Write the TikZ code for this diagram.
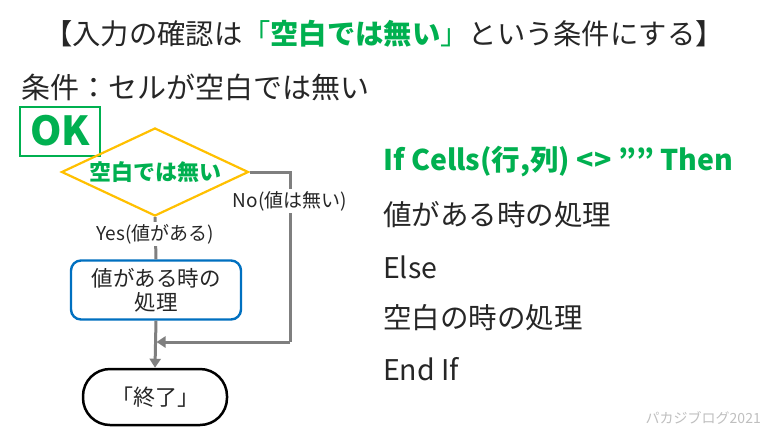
\documentclass[tikz,border=0pt]{standalone}
\usepackage{fontspec}
\setmainfont{Noto Sans CJK JP}
\usetikzlibrary{shapes.geometric,arrows.meta}
\definecolor{okgreen}{HTML}{00B050}
\definecolor{diagold}{HTML}{FFC000}
\definecolor{boxblue}{HTML}{0070C0}
\definecolor{txt}{HTML}{262626}
\definecolor{conn}{HTML}{7F7F7F}
\definecolor{wm}{HTML}{BFBFBF}
\tikzset{
  conline/.style={draw=conn, line width=3pt},
  conarrow/.style={conline, -{Triangle[length=9pt,width=11pt]}},
  clabel/.style={fill=white, text=txt, inner sep=2pt, font=\fontsize{19}{21}\selectfont},
  codeline/.style={anchor=west, text=txt, inner sep=0pt, font=\fontsize{28.5}{31}\selectfont},
}
\begin{document}
\begin{tikzpicture}[x=1pt,y=-1pt]
\useasboundingbox[fill=white] (0,0) rectangle (768,432);

\node[text=txt, inner sep=0pt, font=\fontsize{28.3}{32}\selectfont] (title) at (384,34)
  {【入力の確認は{\color{okgreen}「\textbf{空白では無い}」}という条件にする】};
\node[anchor=west, text=txt, inner sep=0pt, font=\fontsize{29}{32}\selectfont] (cond) at (21,87)
  {条件：セルが空白では無い};

\node[draw=okgreen, line width=2pt, text=okgreen, minimum width=80pt, minimum height=49pt, inner sep=0pt,
  font=\fontsize{40}{44}\selectfont\bfseries] (ok) at (60,131) {OK};

\node[draw=diagold, line width=2.2pt, diamond, shape aspect=2.1, inner sep=0pt,
  minimum width=187pt, minimum height=88pt, text=okgreen,
  font=\fontsize{22}{24}\selectfont\bfseries] (dia) at (155,172) {空白では無い};

\node[draw=boxblue, line width=2.4pt, rounded corners=10pt, minimum width=170pt, minimum height=59pt,
  align=center, text=txt, inner sep=0pt, font=\fontsize{21.5}{24}\selectfont] (proc) at (156,290)
  {値がある時の\\処理};

\node[draw=black, line width=2.5pt, rounded corners=27pt, minimum width=144pt, minimum height=56pt,
  text=txt, inner sep=0pt, font=\fontsize{22}{25}\selectfont] (term) at (155,397) {「終了」};

\coordinate (ncorner) at (290,342);
\coordinate (merge) at (155,342);

\draw[conline] (dia.south) -- node[clabel, pos=0.4] (yes) {Yes(値がある)} (proc.north);
\draw[conarrow] (proc.south) -- (term.north);
\draw[conline] (dia.east) -| (ncorner);
\node[clabel] (no) at (290,201) {No(値は無い)};
\draw[conarrow, shorten >=1.5pt] (ncorner) -- (merge);

\node[codeline, text=okgreen, font=\fontsize{28.5}{31}\selectfont\bfseries] (c1) at (383,162)
  {If Cells(行,列) <> ”” Then};
\node[codeline] (c2) at (383,215) {値がある時の処理};
\node[codeline] (c3) at (383,267) {Else};
\node[codeline] (c4) at (383,318) {空白の時の処理};
\node[codeline] (c5) at (383,369) {End If};

\node[anchor=east, text=wm, inner sep=0pt, font=\fontsize{14}{16}\selectfont] (wmark) at (761,418) {パカジブログ2021};
\end{tikzpicture}
\end{document}
